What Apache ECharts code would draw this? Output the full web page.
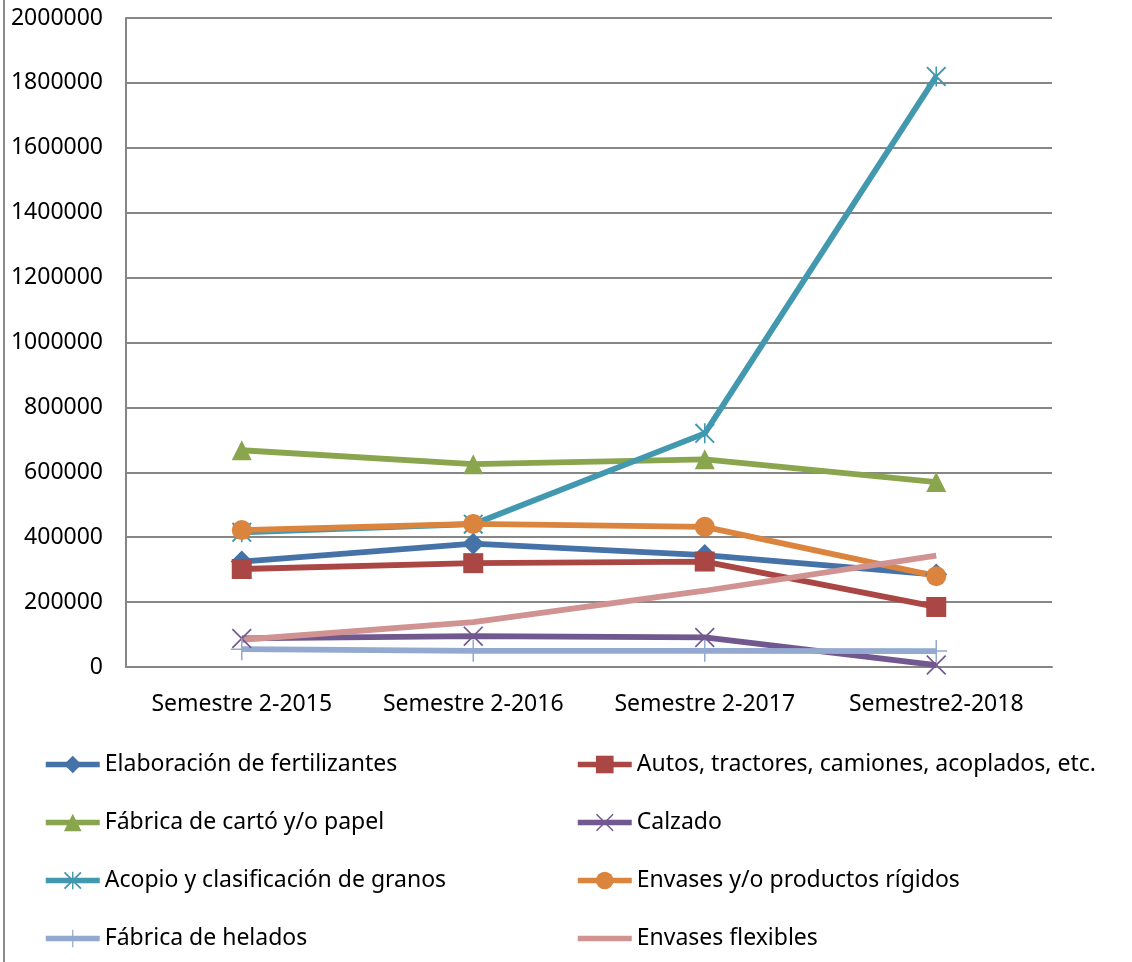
<!DOCTYPE html>
<html>
<head>
<meta charset="utf-8">
<script src="https://cdn.jsdelivr.net/npm/echarts@6/dist/echarts.min.js"></script>
<style>
  html, body { margin: 0; padding: 0; background: #fff; }
  #chart { width: 1132px; height: 962px; }
</style>
</head>
<body>
<div id="chart"></div>
<script>
const categories = ['Semestre 2-2015', 'Semestre 2-2016', 'Semestre 2-2017', 'Semestre2-2018']

const fertilizantes = [325000, 380000, 345000, 285000]
const autos = [302000, 320000, 325000, 185000]
const carton = [668000, 625000, 640000, 570000]
const calzado = [88000, 95000, 91000, 6000]
const acopio = [415000, 440000, 720000, 1820000]
const rigidos = [422000, 441000, 432000, 280000]
const helados = [55000, 50000, 50000, 49000]
const flexibles = [84000, 138000, 235000, 343000]

const seriesNames = [
  'Elaboración de fertilizantes',
  'Autos, tractores, camiones, acoplados, etc.',
  'Fábrica de cartó y/o papel',
  'Calzado',
  'Acopio y clasificación de granos',
  'Envases y/o productos rígidos',
  'Fábrica de helados',
  'Envases flexibles'
]

// stroke-like markers built as thin filled shapes
const xMark = 'path://M0,1.2 L1.2,0 L20,18.8 L18.8,20 Z M18.8,0 L20,1.2 L1.2,20 L0,18.8 Z'
const starMark = 'path://M0,1.4 L1.4,0 L20,18.6 L18.6,20 Z M18.6,0 L20,1.4 L1.4,20 L0,18.6 Z M9.2,0 L10.8,0 L10.8,20 L9.2,20 Z'
const plusMark = 'path://M9.3,0 L10.7,0 L10.7,20 L9.3,20 Z M0,9.3 L20,9.3 L20,10.7 L0,10.7 Z'

const font = 'Noto Sans'

const chart = echarts.init(document.getElementById('chart'))

function line(name, data, color, symbol, size) {
  return {
    name: name,
    type: 'line',
    data: data,
    symbol: symbol,
    symbolSize: size,
    showSymbol: symbol !== 'none',
    lineStyle: { width: 5.8, color: color },
    itemStyle: { color: color },
    emphasis: { disabled: true },
    animation: false
  }
}

const legendBase = {
  orient: 'vertical',
  top: 748,
  height: 220,
  itemWidth: 54,
  itemHeight: 22,
  itemGap: 35,
  lineStyle: { width: 5.5 },
  textStyle: { fontFamily: font, fontSize: 23, color: '#000' },
  selectedMode: false
}

chart.setOption({
  backgroundColor: '#fff',
  textStyle: { fontFamily: font },
  graphic: [{
    type: 'line',
    shape: { x1: 4, y1: 0, x2: 4, y2: 962 },
    style: { stroke: '#8c8c8c', lineWidth: 2 }
  }],
  grid: { left: 126, right: 80, top: 18, bottom: 295 },
  legend: [
    Object.assign({ left: 38, data: [seriesNames[0], seriesNames[2], seriesNames[4], seriesNames[6]] }, legendBase),
    Object.assign({
      left: 570,
      data: [seriesNames[1], seriesNames[3], seriesNames[5],
        { name: seriesNames[7], itemStyle: { color: 'rgba(0,0,0,0)', borderWidth: 0 } }]
    }, legendBase)
  ],
  xAxis: {
    type: 'category',
    data: categories,
    boundaryGap: true,
    axisLine: { lineStyle: { color: '#868686', width: 2 } },
    axisTick: { show: false },
    axisLabel: { fontFamily: font, fontSize: 23, color: '#000', margin: 26, interval: 0 }
  },
  yAxis: {
    type: 'value',
    min: 0,
    max: 2000000,
    interval: 200000,
    axisLine: { show: true, lineStyle: { color: '#868686', width: 2 } },
    axisTick: { show: false },
    splitLine: { lineStyle: { color: '#868686', width: 2 } },
    axisLabel: { fontFamily: font, fontSize: 23, color: '#000', margin: 23, formatter: v => String(v) }
  },
  series: [
    line(seriesNames[0], fertilizantes, '#4572a7', 'diamond', 22),
    line(seriesNames[1], autos, '#aa4643', 'rect', 20),
    line(seriesNames[2], carton, '#89a54e', 'triangle', 20),
    line(seriesNames[3], calzado, '#71588f', xMark, 20),
    line(seriesNames[4], acopio, '#4198af', starMark, 20),
    line(seriesNames[5], rigidos, '#db843d', 'circle', 20),
    line(seriesNames[6], helados, '#93a9cf', plusMark, 22),
    line(seriesNames[7], flexibles, '#d19392', 'none', 0)
  ]
})
</script>
</body>
</html>
